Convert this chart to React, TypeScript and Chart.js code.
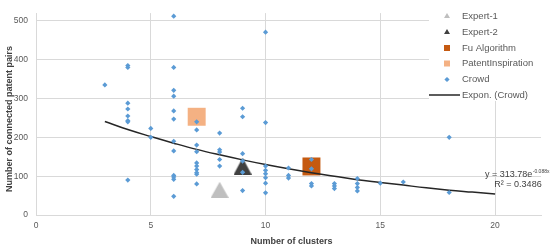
import React, { useEffect, useRef } from 'react';
import { Chart, registerables } from 'chart.js';

Chart.register(...registerables);

// Crowd results: number of clusters vs. number of connected patent pairs
const crowdClusters = [
  3,
  4, 4, 4, 4, 4, 4, 4, 4,
  5, 5,
  6, 6, 6, 6, 6, 6, 6, 6, 6, 6, 6, 6,
  7, 7, 7, 7, 7, 7, 7, 7, 7, 7,
  8, 8, 8, 8, 8,
  9, 9, 9, 9, 9, 9,
  10, 10, 10, 10, 10, 10, 10, 10,
  11, 11, 11,
  12, 12, 12, 12,
  13, 13, 13,
  14, 14, 14, 14,
  15,
  16,
  18, 18,
];
const crowdPairs = [
  335,
  385, 380, 288, 273, 255, 243, 240, 90,
  223, 200,
  512, 380, 321, 306, 268, 247, 190, 165, 102, 98, 92, 48,
  240, 219, 180, 163, 134, 126, 117, 109, 105, 80,
  211, 168, 162, 143, 126,
  275, 253, 158, 139, 110, 63,
  471, 238, 126, 115, 106, 96, 82, 57,
  121, 102, 95,
  143, 119, 81, 75,
  81, 75, 68,
  94, 81, 71, 62,
  82,
  85,
  200, 58,
];

const expert1 = { clusters: 8, pairs: 65 };
const expert2 = { clusters: 9, pairs: 126 };
const fuAlgorithm = { clusters: 12, pairs: 125 };
const patentInspiration = { clusters: 7, pairs: 253 };

// Exponential trendline of the Crowd series
const trendClusters = [3, 4, 5, 6, 7, 8, 9, 10, 11, 12, 13, 14, 15, 16, 17, 18, 19, 20];
const trendPairs = [241, 220, 202, 185, 169, 155, 142, 130, 119, 109, 100, 91, 84, 77, 70, 64, 59, 54];

const xTicks = [0, 5, 10, 15, 20];
const yTicks = [0, 100, 200, 300, 400, 500];

const legendLabels = ['Expert-1', 'Expert-2', 'Fu Algorithm', 'PatentInspiration', 'Crowd', 'Expon. (Crowd)'];
const equationText = 'y = 313.78e';
const equationExp = '-0.088x';
const rSquaredText = 'R² = 0.3486';
const xTitle = 'Number of clusters';
const yTitle = 'Number of connected patent pairs';

const COLORS = {
  crowd: '#5b9bd5',
  expert1: '#bfbfbf',
  expert2: '#404040',
  fu: '#c55a11',
  pi: '#f4b183',
  trend: '#262626',
  grid: '#d9d9d9',
  tick: '#595959',
  title: '#404040',
};

const FONT = '"Liberation Sans", Arial, sans-serif';

function triangleMarker(color: string, w: number, h: number): HTMLCanvasElement {
  const c = document.createElement('canvas');
  c.width = w;
  c.height = h;
  const g = c.getContext('2d')!;
  g.fillStyle = color;
  g.beginPath();
  g.moveTo(w / 2, 0);
  g.lineTo(w, h);
  g.lineTo(0, h);
  g.closePath();
  g.fill();
  return c;
}

const overlayPlugin = {
  id: 'overlay',
  afterDraw(chart: any) {
    const ctx: CanvasRenderingContext2D = chart.ctx;
    const area = chart.chartArea;
    ctx.save();

    // Legend box
    const lx = 429;
    ctx.fillStyle = '#ffffff';
    ctx.fillRect(lx, 0, area.right - lx + 1, 101);
    const rows = [16, 32, 48, 63.5, 79.5, 95];
    const mx = 447;
    const tx = 462;
    ctx.font = `9.5px ${FONT}`;
    ctx.textBaseline = 'middle';
    ctx.textAlign = 'left';
    legendLabels.forEach((label, i) => {
      const y = rows[i];
      ctx.beginPath();
      if (i === 0 || i === 1) {
        ctx.fillStyle = i === 0 ? COLORS.expert1 : COLORS.expert2;
        ctx.moveTo(mx, y - 3);
        ctx.lineTo(mx + 3, y + 2);
        ctx.lineTo(mx - 3, y + 2);
        ctx.closePath();
        ctx.fill();
      } else if (i === 2 || i === 3) {
        ctx.fillStyle = i === 2 ? COLORS.fu : COLORS.pi;
        ctx.fillRect(mx - 3, y - 3, 6, 6);
      } else if (i === 4) {
        ctx.fillStyle = COLORS.crowd;
        ctx.moveTo(mx, y - 2.6);
        ctx.lineTo(mx + 2.6, y);
        ctx.lineTo(mx, y + 2.6);
        ctx.lineTo(mx - 2.6, y);
        ctx.closePath();
        ctx.fill();
      } else {
        ctx.strokeStyle = COLORS.trend;
        ctx.lineWidth = 1.5;
        ctx.moveTo(lx, y);
        ctx.lineTo(tx - 2, y);
        ctx.stroke();
      }
      ctx.fillStyle = COLORS.tick;
      ctx.fillText(label, tx, y);
    });

    // Trendline equation
    ctx.fillStyle = COLORS.title;
    ctx.font = `9px ${FONT}`;
    ctx.textAlign = 'left';
    ctx.fillText(equationText, 485, 175);
    const w = ctx.measureText(equationText).width;
    ctx.font = `5px ${FONT}`;
    ctx.fillText(equationExp, 485 + w + 0.5, 172);
    ctx.font = `9px ${FONT}`;
    ctx.textAlign = 'center';
    ctx.fillText(rSquaredText, 518, 185);

    // Axis titles
    ctx.font = `bold 9px ${FONT}`;
    ctx.fillStyle = COLORS.title;
    ctx.textAlign = 'center';
    ctx.fillText(xTitle, (area.left + area.right) / 2 + 3, 242);
    ctx.translate(10, (area.top + area.bottom) / 2 + 5);
    ctx.rotate(-Math.PI / 2);
    ctx.fillText(yTitle, 0, 0);

    ctx.restore();
  },
};

export default function App() {
  const canvasRef = useRef<HTMLCanvasElement | null>(null);

  useEffect(() => {
    if (!canvasRef.current) return;
    const crowdData = crowdClusters.map((x, i) => ({ x, y: crowdPairs[i] }));
    const trendData = trendClusters.map((x, i) => ({ x, y: trendPairs[i] }));

    const chart = new Chart(canvasRef.current, {
      type: 'scatter',
      data: {
        datasets: [
          {
            label: 'Crowd',
            data: crowdData,
            pointStyle: 'rectRot',
            pointRadius: 2.6,
            backgroundColor: COLORS.crowd,
            borderColor: COLORS.crowd,
            borderWidth: 0,
            order: 0,
          },
          {
            label: 'Expon. (Crowd)',
            data: trendData,
            showLine: true,
            pointRadius: 0,
            borderColor: COLORS.trend,
            borderWidth: 1.5,
            tension: 0.4,
            order: 1,
          },
          {
            label: 'Expert-2',
            data: [{ x: expert2.clusters, y: expert2.pairs }],
            pointStyle: triangleMarker(COLORS.expert2, 18, 17),
            pointRadius: 9,
            backgroundColor: COLORS.expert2,
            borderWidth: 0,
            order: 2,
          },
          {
            label: 'Expert-1',
            data: [{ x: expert1.clusters, y: expert1.pairs }],
            pointStyle: triangleMarker(COLORS.expert1, 18, 16),
            pointRadius: 9,
            backgroundColor: COLORS.expert1,
            borderWidth: 0,
            order: 3,
          },
          {
            label: 'Fu Algorithm',
            data: [{ x: fuAlgorithm.clusters, y: fuAlgorithm.pairs }],
            pointStyle: 'rect',
            pointRadius: 12.7,
            backgroundColor: COLORS.fu,
            borderWidth: 0,
            order: 4,
          },
          {
            label: 'PatentInspiration',
            data: [{ x: patentInspiration.clusters, y: patentInspiration.pairs }],
            pointStyle: 'rect',
            pointRadius: 12.7,
            backgroundColor: COLORS.pi,
            borderWidth: 0,
            order: 5,
          },
        ],
      },
      options: {
        responsive: false,
        animation: false,
        events: [],
        layout: { padding: { top: 12, right: 16, left: 0, bottom: 0 } },
        plugins: {
          legend: { display: false },
          tooltip: { enabled: false },
          title: { display: false },
        },
        scales: {
          x: {
            type: 'linear',
            min: 0,
            max: 22,
            afterBuildTicks: (axis: any) => {
              axis.ticks = xTicks.map((v) => ({ value: v }));
            },
            afterFit: (scale: any) => {
              scale.height = 35;
            },
            grid: { color: COLORS.grid, lineWidth: 1, drawTicks: false },
            border: { color: COLORS.grid, width: 1 },
            ticks: {
              color: COLORS.tick,
              font: { family: FONT, size: 8.5 },
              padding: 6,
              maxRotation: 0,
            },
          },
          y: {
            type: 'linear',
            min: 0,
            max: 520,
            afterBuildTicks: (axis: any) => {
              axis.ticks = yTicks.map((v) => ({ value: v }));
            },
            afterFit: (scale: any) => {
              scale.width = 36;
            },
            grid: { color: COLORS.grid, lineWidth: 1, drawTicks: false },
            border: { color: COLORS.grid, width: 1 },
            ticks: {
              color: COLORS.tick,
              font: { family: FONT, size: 8.5 },
              padding: 8,
            },
          },
        },
      },
      plugins: [overlayPlugin],
    } as any);

    return () => chart.destroy();
  }, []);

  return (
    <div style={{ position: 'absolute', left: 0, top: 0, width: 557, height: 250, background: '#ffffff' }}>
      <canvas ref={canvasRef} width={557} height={250} style={{ display: 'block' }} />
    </div>
  );
}
